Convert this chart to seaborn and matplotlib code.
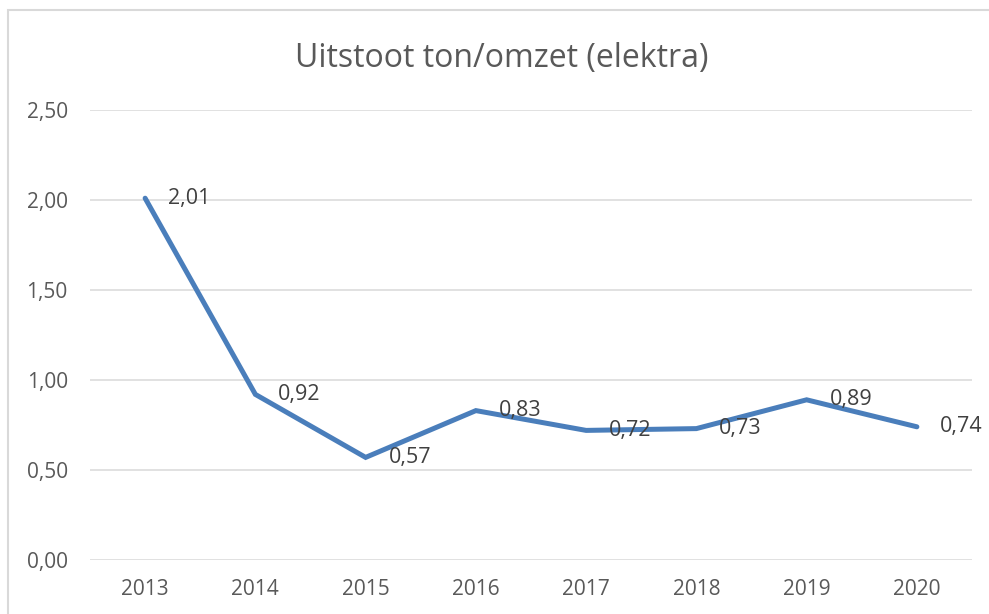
import numpy as np
import pandas as pd
import matplotlib
matplotlib.use("Agg")
import matplotlib.pyplot as plt
from matplotlib.patches import Rectangle
import seaborn as sns

# Data
years = ["2013", "2014", "2015", "2016", "2017", "2018", "2019", "2020"]
values = [2.01, 0.92, 0.57, 0.83, 0.72, 0.73, 0.89, 0.74]
y_ticks = [0.0, 0.5, 1.0, 1.5, 2.0, 2.5]

df = pd.DataFrame({"jaar": years, "waarde": values})

sns.set_theme(style="white")
plt.rcParams["font.family"] = ["Open Sans", "DejaVu Sans"]

W, H = 989, 614
fig = plt.figure(figsize=(W / 100, H / 100), dpi=100)
ax = fig.add_axes([90 / W, (H - 560) / H, (972 - 90) / W, (560 - 110) / H])

# chart border
fig.patches.append(Rectangle((8 / W, -0.1), 1.2, 1.1 - 10 / H, transform=fig.transFigure,
                             fill=False, edgecolor="#d9d9d9", linewidth=1.5))

df["pos"] = np.arange(len(df))
sns.lineplot(data=df, x="pos", y="waarde", ax=ax, color="#4a7ebb", linewidth=3.6,
             solid_joinstyle="miter")

for x, v in zip(df["pos"], df["waarde"]):
    ax.annotate(f"{v:.2f}".replace(".", ","), (x, v), xytext=(16.5, 0), textcoords="offset points",
                ha="left", va="center", fontsize=15.5, color="#404040")

ax.set_xlim(-0.5, len(years) - 0.5)
ax.set_ylim(0, 2.5)
ax.set_xticks(df["pos"])
ax.set_xticklabels(years)
ax.set_yticks(y_ticks)
ax.set_yticklabels([f"{t:.2f}".replace(".", ",") for t in y_ticks])
ax.yaxis.grid(True, color="#d9d9d9", linewidth=1.1)
ax.set_axisbelow(True)
for s in ax.spines.values():
    s.set_visible(False)
ax.tick_params(axis="both", length=0, labelsize=15, colors="#595959")
ax.tick_params(axis="y", pad=16)
ax.tick_params(axis="x", pad=14)
ax.set_xlabel("")
ax.set_ylabel("")

fig.text(502 / W, 1 - 58 / H, "Uitstoot ton/omzet (elektra)", ha="center", va="center",
         fontsize=23, color="#595959")

fig.savefig("out.png", dpi=100, facecolor="white")
